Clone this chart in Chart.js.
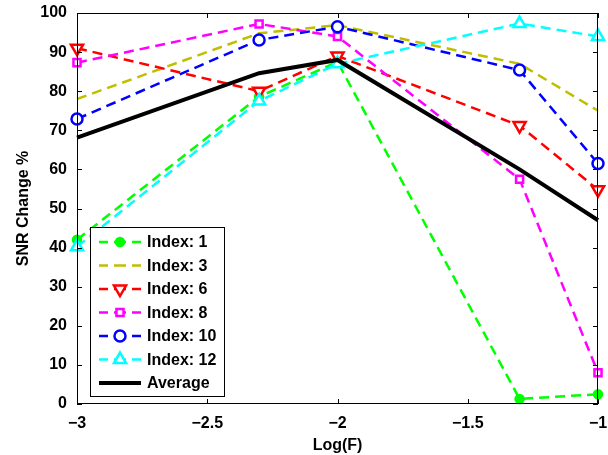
<!DOCTYPE html>
<html>
<head>
<meta charset="utf-8">
<script src="https://cdn.jsdelivr.net/npm/chart.js@4.4.0/dist/chart.umd.min.js"></script>
<style>
  html, body { margin: 0; padding: 0; background: #fff; }
  #wrap { width: 608px; height: 455px; }
</style>
</head>
<body>
<div id="wrap"><canvas id="snr"></canvas></div>
<script>
// log10 of F = 0.001, 0.005, 0.01, 0.05, 0.1
const logF = [-3, -2.301, -2, -1.301, -1];

const index1  = [42.0, 78.6, 87.5, 1.3, 2.5];
const index3  = [78.0, 94.8, 96.9, 87.0, 75.0];
const index6  = [91.0, 80.0, 89.0, 71.2, 54.8];
const index8  = [87.3, 97.2, 94.0, 57.5, 8.0];
const index10 = [72.9, 93.1, 96.5, 85.4, 61.5];
const index12 = [40.2, 77.5, 87.0, 97.3, 94.0];
const average = [68.1, 84.6, 88.0, 60.0, 47.0];

const seriesNames = ['Index: 1', 'Index: 3', 'Index: 6', 'Index: 8', 'Index: 10', 'Index: 12', 'Average'];
const xTicks = [-3, -2.5, -2, -1.5, -1];
const yTicks = [0, 10, 20, 30, 40, 50, 60, 70, 80, 90, 100];

const FONT = '"Liberation Sans", Arial, sans-serif';

function pts(vals){
	return vals.map(function(v, i){ return {x: logF[i], y: v}; });
}

function mkSet(name, vals, color, style, fill, radius, rot, order){
	return {
		label: name,
		data: pts(vals),
		borderColor: color,
		borderWidth: 2.5,
		borderDash: [10, 6],
		pointStyle: style,
		pointRadius: radius,
		pointRotation: rot,
		pointBorderWidth: 2.5,
		pointBorderColor: color,
		pointBackgroundColor: fill,
		tension: 0,
		fill: false,
		clip: false,
		order: order
	};
}

const datasets = [
	mkSet(seriesNames[0], index1, '#00ff00', 'circle', '#00ff00', 4, 0, 6),
	mkSet(seriesNames[1], index3, '#bfbf00', false, '#bfbf00', 0, 0, 5),
	mkSet(seriesNames[2], index6, '#ff0000', 'triangle', '#ffffff', 7, 180, 4),
	mkSet(seriesNames[3], index8, '#ff00ff', 'rect', '#ffffff', 5, 0, 3),
	mkSet(seriesNames[4], index10, '#0000ff', 'circle', '#ffffff', 5.5, 0, 2),
	mkSet(seriesNames[5], index12, '#00ffff', 'triangle', '#ffffff', 7, 0, 1),
	{
		label: seriesNames[6],
		data: pts(average),
		borderColor: '#000000',
		borderWidth: 4,
		pointRadius: 0,
		tension: 0,
		fill: false,
		clip: false,
		order: 0
	}
];

// box round the axes and inward tick marks (like matlab)
const framePlugin = {
	id: 'frame',
	afterDatasetsDraw(chart){
		const ctx = chart.ctx;
		const a = chart.chartArea;
		const xs = chart.scales.x, ys = chart.scales.y;
		ctx.save();
		ctx.strokeStyle = '#000';
		ctx.lineWidth = 1;
		ctx.setLineDash([]);
		ctx.strokeRect(a.left + 0.5, a.top + 0.5, a.right - a.left - 1, a.bottom - a.top - 1);
		ctx.beginPath();
		xTicks.forEach(function(t){
			const px = Math.round(xs.getPixelForValue(t)) + 0.5;
			ctx.moveTo(px, a.bottom); ctx.lineTo(px, a.bottom - 5);
			ctx.moveTo(px, a.top); ctx.lineTo(px, a.top + 5);
		});
		yTicks.forEach(function(t){
			const py = Math.round(ys.getPixelForValue(t)) + 0.5;
			ctx.moveTo(a.left, py); ctx.lineTo(a.left + 5, py);
			ctx.moveTo(a.right, py); ctx.lineTo(a.right - 5, py);
		});
		ctx.stroke();
		ctx.restore();
	}
};

// legend in the lower left corner of the plot
const boxLegend = {
	id: 'boxLegend',
	afterDraw(chart){
		const ctx = chart.ctx;
		const left = 90, top = 227, w = 134, h = 169;
		ctx.save();
		ctx.fillStyle = '#fff';
		ctx.fillRect(left, top, w, h);
		ctx.strokeStyle = '#000';
		ctx.lineWidth = 1;
		ctx.strokeRect(left + 0.5, top + 0.5, w, h);
		chart.data.datasets.forEach(function(ds, i){
			const y = top + 15 + i * 23.5;
			ctx.strokeStyle = ds.borderColor;
			ctx.lineWidth = ds.borderWidth;
			ctx.beginPath();
			if (ds.borderDash) {
				ctx.moveTo(99, y); ctx.lineTo(108, y);
				ctx.moveTo(114, y); ctx.lineTo(126, y);
				ctx.moveTo(132, y); ctx.lineTo(141, y);
			} else {
				ctx.moveTo(99, y); ctx.lineTo(141, y);
			}
			ctx.stroke();
			if (ds.pointStyle && ds.pointRadius > 0) {
				ctx.fillStyle = ds.pointBackgroundColor;
				ctx.lineWidth = ds.pointBorderWidth;
				Chart.helpers.drawPoint(ctx, {
					pointStyle: ds.pointStyle,
					radius: ds.pointRadius,
					rotation: ds.pointRotation,
					borderWidth: ds.pointBorderWidth
				}, 120, y);
			}
			ctx.fillStyle = '#000';
			ctx.font = 'bold 16px ' + FONT;
			ctx.textBaseline = 'middle';
			ctx.textAlign = 'left';
			ctx.fillText(ds.label, 147, y + 1);
		});
		ctx.restore();
	}
};

const ctx = document.getElementById('snr');
new Chart(ctx, {
	type: 'line',
	data: { datasets: datasets },
	options: {
		responsive: true,
		maintainAspectRatio: false,
		animation: false,
		layout: { padding: { top: 13, right: 10, left: 0, bottom: 0 } },
		plugins: {
			legend: { display: false },
			tooltip: { enabled: false }
		},
		scales: {
			x: {
				type: 'linear',
				min: -3,
				max: -1,
				afterFit: function(s){
					s.height = 51;
					s.paddingLeft = 0; s.paddingRight = 0;
				},
				afterBuildTicks: function(s){ s.ticks = xTicks.map(function(v){ return {value: v}; }); },
				grid: { display: false, drawTicks: false },
				border: { display: false },
				ticks: {
					autoSkip: false,
					maxRotation: 0,
					padding: 10,
					color: '#000',
					font: { family: FONT, size: 16, weight: 'bold' },
					callback: function(v){ return String(v).replace('-', '\u2212'); }
				},
				title: {
					display: true,
					text: 'Log(F)',
					color: '#000',
					padding: { top: 0, bottom: 0 },
					font: { family: FONT, size: 16, weight: 'bold' }
				}
			},
			y: {
				min: 0,
				max: 100,
				afterFit: function(s){
					s.width = 77;
					s.paddingTop = 0; s.paddingBottom = 0;
				},
				afterBuildTicks: function(s){ s.ticks = yTicks.map(function(v){ return {value: v}; }); },
				grid: { display: false, drawTicks: false },
				border: { display: false },
				ticks: {
					padding: 10,
					color: '#000',
					font: { family: FONT, size: 16, weight: 'bold' }
				},
				title: {
					display: true,
					text: 'SNR Change %',
					color: '#000',
					padding: { top: 14, bottom: 0 },
					font: { family: FONT, size: 16, weight: 'bold' }
				}
			}
		}
	},
	plugins: [framePlugin, boxLegend]
});
</script>
</body>
</html>
